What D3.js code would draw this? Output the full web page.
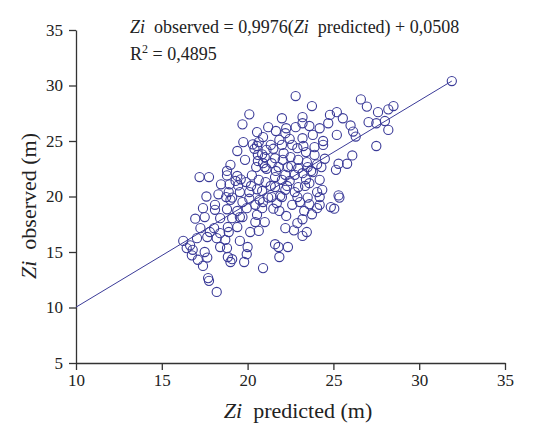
<!DOCTYPE html>
<html lang="en">
<head>
<meta charset="utf-8">
<title>Zi observed vs predicted</title>
<script src="https://d3js.org/d3.v7.min.js"></script>
<style>
  body { margin: 0; background: #fff; }
  text { font-family: "Liberation Serif", "Times New Roman", serif; fill: #222; }
</style>
</head>
<body>
<div id="chart"></div>
<script>
// axis ticks
var xTicks = [10, 15, 20, 25, 30, 35];
var yTicks = [5, 10, 15, 20, 25, 30, 35];

// fitted line as drawn in the picture (start at x=10, ends on the largest point)
var lineStart = [10, 10.03];
var lineEnd = [31.9, 30.4];

// [Zi predicted, Zi observed]
var points = [
  [31.9,30.4],[28.5,28.15],[28.2,27.85],[27.6,27.6],[28.0,26.8],[27.5,26.6],[27.05,26.7],[28.2,26.0],
  [27.5,24.55],[26.6,28.75],[26.95,28.1],[26.0,26.4],[26.15,25.85],[26.3,25.4],[26.1,23.7],[25.3,22.95],
  [25.8,22.95],[25.15,22.4],[25.3,20.1],[25.35,19.9],[24.85,19.05],[25.05,18.9],
  [22.8,29.05],[23.75,28.15],[24.8,27.35],[25.2,27.6],[25.55,27.05],[24.7,26.6],[25.2,25.55],[23.2,27.15],
  [23.2,26.6],[23.6,26.35],[24.2,26.15],[22.8,26.25],[22.2,25.7],[23.8,25.55],[23.2,25.25],[24.4,25.0],
  [24.4,24.65],[23.9,24.45],[22.9,24.35],[23.4,24.0],[23.9,23.75],[24.5,23.4],[22.95,23.3],[23.45,23.1],
  [24.05,22.9],[22.45,25.2],[22.0,24.65],[21.5,24.3],[22.1,23.9],[22.5,23.55],[21.6,23.45],[22.05,23.3],
  [21.4,23.0],[21.8,22.65],[22.35,22.65],[22.95,22.55],[23.5,22.65],[23.8,22.2],[23.2,22.1],[22.75,21.95],
  [22.2,21.95],[21.6,21.75],[22.0,21.5],[22.45,21.4],[23.4,21.55],[24.2,21.5],[23.6,21.2],[22.95,20.85],
  [21.6,20.85],[22.2,20.6],[22.75,20.4],[24.05,20.4],[24.35,20.6],
  [20.1,27.4],[19.7,26.5],[20.55,25.8],[19.75,24.9],[20.9,25.35],[20.65,24.9],[20.3,24.7],[20.55,24.55],
  [20.4,24.3],[21.1,24.2],[20.6,23.75],[21.0,23.55],[20.6,23.2],[20.9,23.0],[20.5,22.65],[21.1,22.5],
  [19.0,22.85],[18.8,22.3],[17.2,21.75],[17.75,21.75],[18.8,21.9],[19.4,21.85],[19.6,21.55],[20.25,21.9],
  [19.9,21.3],[20.65,21.5],[21.05,21.3],[18.45,21.1],[18.95,21.1],[19.45,21.0],[20.55,20.65],[18.3,20.2],
  [17.6,20.0],[18.9,20.4],[19.55,20.4],[20.1,20.4],[20.85,20.5],
  [19.1,19.9],[19.7,19.5],[20.1,19.8],[20.7,19.7],[21.2,19.9],[17.4,18.95],[18.1,18.8],[18.8,18.85],
  [19.4,18.7],[19.95,18.95],[20.55,18.35],[20.85,18.95],[16.95,18.0],[17.5,18.15],[18.4,18.05],[19.1,18.05],
  [19.7,18.15],[20.45,17.7],[21.0,17.7],[18.85,17.25],[19.4,17.25],[17.8,16.8],[18.4,16.7],[16.25,16.0],
  [17.05,16.25],[17.65,16.35],[18.2,16.25],[18.9,16.8],[19.55,16.0],[20.65,16.9],[16.45,15.35],[16.8,15.2],
  [18.4,15.45],[18.8,15.35],[20.0,15.45],[16.75,14.7],[17.5,15.0],[17.1,14.3],[17.65,14.5],[18.85,14.55],
  [19.1,14.35],[19.0,14.1],[19.95,14.8],[19.8,14.1],[17.4,13.75],[20.9,13.55],[17.7,12.65],[17.75,12.4],
  [18.2,11.4],[16.65,15.6],
  [21.4,19.95],[22.0,19.95],[22.9,19.95],[23.5,19.9],[24.2,19.95],[21.7,19.4],[23.05,19.5],[23.6,19.3],
  [24.2,19.25],[24.05,18.95],[21.5,18.9],[21.85,18.7],[22.25,18.25],[23.3,18.7],[23.2,17.95],[22.9,17.6],
  [22.2,17.15],[22.7,16.95],[23.45,16.8],[23.2,16.45],[21.6,15.7],[21.8,15.45],[22.35,15.45],[21.85,14.55],
  [21.2,26.25],[21.65,25.9],[22.25,26.15],[21.35,24.65],[21.85,25.1],[22.6,24.65],[23.25,24.55],[21.0,22.65],
  [21.65,22.3],[22.3,20.95],[22.55,22.75],[23.35,20.95],[23.7,22.3],[24.3,22.65],[19.85,23.3],[19.4,24.1],
  [19.3,21.4],[18.75,19.95],[20.2,20.95],[20.9,19.5],[21.35,20.95],[20.45,19.25],[19.55,18.15],[18.05,17.15],
  [18.7,16.1],[17.25,17.15],[21.9,20.05],[22.6,19.25],[23.75,18.4],[20.15,16.8],[20.85,23.8],[22.0,27.05],
  [19.0,19.7],[18.1,19.25]
];

var w = 550, h = 425;
var ink = "#3b3b98";
var axisInk = "#333";

var x = d3.scaleLinear().domain([10, 35]).range([76, 505]);
var y = d3.scaleLinear().domain([5, 35]).range([363, 30]);

var svg = d3.select("#chart").append("svg")
  .attr("width", w)
  .attr("height", h);

// x axis
var gx = svg.append("g")
  .attr("transform", "translate(0," + y(5) + ")")
  .call(d3.axisBottom(x).tickValues(xTicks).tickSize(7).tickPadding(4).tickSizeOuter(0));
// y axis
var gy = svg.append("g")
  .attr("transform", "translate(" + x(10) + ",0)")
  .call(d3.axisLeft(y).tickValues(yTicks).tickSize(7).tickPadding(6).tickSizeOuter(0));

[gx, gy].forEach(function(g) {
  g.selectAll("path, line").attr("stroke", axisInk).attr("stroke-width", 1.3);
  g.selectAll("text")
    .style("font-family", "'Liberation Serif', serif")
    .style("font-size", "17px")
    .attr("fill", "#222");
});

// fitted line
svg.append("line")
  .attr("x1", x(lineStart[0])).attr("y1", y(lineStart[1]))
  .attr("x2", x(lineEnd[0])).attr("y2", y(lineEnd[1]))
  .attr("stroke", ink)
  .attr("stroke-width", 1);

// points
svg.append("g").selectAll("circle")
  .data(points)
  .enter()
  .append("circle")
  .attr("cx", function(d) { return x(d[0]); })
  .attr("cy", function(d) { return y(d[1]); })
  .attr("r", 4.6)
  .attr("fill", "none")
  .attr("stroke", ink)
  .attr("stroke-width", 1.1);

// equation
var eq = svg.append("text").attr("x", 130).attr("y", 33).style("font-size", "18px");
eq.append("tspan").style("font-style", "italic").text("Zi");
eq.append("tspan").text("\u00a0 observed = 0,9976(");
eq.append("tspan").style("font-style", "italic").text("Zi");
eq.append("tspan").text("\u00a0 predicted) + 0,0508");

var r2 = svg.append("text").attr("x", 130).attr("y", 60).style("font-size", "18px");
r2.append("tspan").text("R");
r2.append("tspan").attr("dy", -7).style("font-size", "12px").text("2");
r2.append("tspan").attr("dy", 7).text(" = 0,4895");

// axis titles
var xt = svg.append("text")
  .attr("x", 298).attr("y", 418)
  .attr("text-anchor", "middle")
  .style("font-size", "22px");
xt.append("tspan").style("font-style", "italic").text("Zi");
xt.append("tspan").text("\u00a0 predicted (m)");

var yt = svg.append("text")
  .attr("transform", "translate(36,206) rotate(-90)")
  .attr("text-anchor", "middle")
  .style("font-size", "22px");
yt.append("tspan").style("font-style", "italic").text("Zi");
yt.append("tspan").text("\u00a0 observed (m)");
</script>
</body>
</html>
